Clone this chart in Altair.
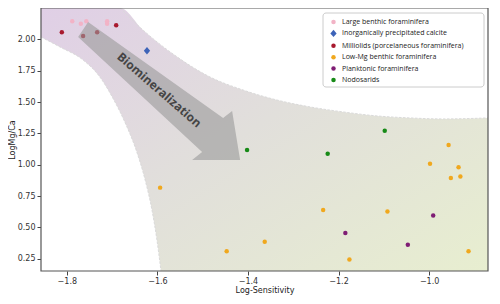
import altair as alt
import pandas as pd

# ---------------- data ----------------
groups = ["Large benthic foraminifera", "Inorganically precipitated calcite",
          "Milliolids (porcelaneous foraminifera)", "Low-Mg benthic foraminifera",
          "Planktonic foraminifera", "Nodosarids"]
colors = ["#f2b3c6", "#3d63b8", "#a8192e", "#f0a81e", "#7f1d74", "#178a17"]
diamond = "M0,-1.65L1.4,0L0,1.65L-1.4,0Z"
shapes = ["circle", diamond, "circle", "circle", "circle", "circle"]

lbf_x = [-1.788, -1.769, -1.757, -1.711, -1.711]
lbf_y = [2.144, 2.125, 2.144, 2.144, 2.125]
calc_x = [-1.623]
calc_y = [1.909]
mil_x = [-1.811, -1.733, -1.691, -1.764]
mil_y = [2.056, 2.056, 2.112, 2.027]
low_x = [-0.957, -0.998, -0.935, -0.952, -0.931, -1.234, -1.092, -1.363, -1.176, -0.913, -1.594, -1.447]
low_y = [1.157, 1.008, 0.980, 0.894, 0.905, 0.639, 0.626, 0.386, 0.243, 0.310, 0.817, 0.310]
plk_x = [-1.185, -0.991, -1.047]
plk_y = [0.456, 0.594, 0.362]
nod_x = [-1.098, -1.224, -1.402]
nod_y = [1.271, 1.088, 1.118]

# shaded band boundaries
upper_x = [-1.857, -1.682, -1.632, -1.556, -1.484, -1.411, -1.336, -1.263, -1.190, -1.115, -1.042, -0.969, -0.870]
upper_y = [2.25, 2.25, 2.075, 1.859, 1.700, 1.596, 1.516, 1.461, 1.421, 1.389, 1.373, 1.365, 1.373]
lower_x = [-1.857, -1.815, -1.764, -1.727, -1.696, -1.669, -1.647, -1.627, -1.612, -1.601, -1.592]
lower_y = [2.019, 1.939, 1.835, 1.700, 1.516, 1.317, 1.118, 0.878, 0.639, 0.400, 0.152]

arrow_x = [-1.594]
arrow_y = [1.588]
label_x = [-1.596]
label_y = [1.596]
label_text = ["Biomineralization"]

x_ticks = [-1.8, -1.6, -1.4, -1.2, -1.0]
y_ticks = [0.25, 0.5, 0.75, 1.0, 1.25, 1.5, 1.75, 2.0]
x_domain = [-1.857, -0.870]
y_domain = [0.152, 2.25]

# ---------------- tables ----------------
rows = []
for g, xs_, ys_ in zip(groups, [lbf_x, calc_x, mil_x, low_x, plk_x, nod_x],
                       [lbf_y, calc_y, mil_y, low_y, plk_y, nod_y]):
    for a, b in zip(xs_, ys_):
        rows.append({"x": a, "y": b, "group": g})
pts = pd.DataFrame(rows)
upper = pd.DataFrame({"x": upper_x, "y": upper_y})
lower = pd.DataFrame({"x": lower_x, "y": lower_y})
upper_edge = upper.iloc[1:]
arrow = pd.DataFrame({"x": arrow_x, "y": arrow_y})
label = pd.DataFrame({"x": label_x, "y": label_y, "t": label_text})
dummy = pd.DataFrame({"a": [0]})

xs = alt.Scale(domain=x_domain, nice=False, zero=False)
ys = alt.Scale(domain=y_domain, nice=False, zero=False)

X = alt.X("x:Q", scale=xs, axis=alt.Axis(
    values=x_ticks, format=".1f", title="Log-Sensitivity", grid=False, domain=False,
    tickSize=4, tickColor="#444", labelPadding=2, labelFont="DejaVu Sans",
    labelFontSize=8, labelColor="#333", titleFont="DejaVu Sans", titleFontSize=8,
    titleFontWeight="normal", titleColor="#222", titleY=15, titleBaseline="top"))
Y = alt.Y("y:Q", scale=ys, axis=alt.Axis(
    values=y_ticks, format=".2f", title="LogMg/Ca", grid=False, domain=False,
    tickSize=4, tickColor="#444", labelPadding=2, labelFont="DejaVu Sans",
    labelFontSize=8, labelColor="#333", titleFont="DejaVu Sans", titleFontSize=8,
    titleFontWeight="normal", titleColor="#222", titleX=-33, titleY=131.5,
    titleAngle=270, titleBaseline="top", titleAlign="center"))

grad = alt.Gradient(
    gradient="linear",
    stops=[alt.GradientStop(color="#e0cfe6", offset=0),
           alt.GradientStop(color="#e1dfdb", offset=0.45),
           alt.GradientStop(color="#e8efcf", offset=1)],
    x1=0, y1=0, x2=1, y2=1)

band = alt.Chart(upper).mark_area(color=grad, interpolate="monotone", clip=True).encode(
    x=X, y=Y, y2=alt.value("height"))
white = alt.Chart(lower).mark_area(color="white", interpolate="monotone", clip=True).encode(
    x=X, y=Y, y2=alt.value("height"))
edge_u = alt.Chart(upper_edge).mark_line(color="#dadada", strokeDash=[2.5, 1.5], strokeWidth=1,
                                         interpolate="monotone", clip=True).encode(x=X, y=Y)
edge_l = alt.Chart(lower).mark_line(color="#dadada", strokeDash=[2.5, 1.5], strokeWidth=1,
                                    interpolate="monotone", clip=True).encode(x=X, y=Y)

legend_box = alt.Chart(dummy).mark_rect(fill="white", stroke="#cccccc", strokeWidth=1,
                                        cornerRadius=3).encode(
    x=alt.value(282), x2=alt.value(443), y=alt.value(5), y2=alt.value(79))

points = alt.Chart(pts).mark_point(filled=True, opacity=1, strokeWidth=0, size=20).encode(
    x=X, y=Y,
    color=alt.Color("group:N", scale=alt.Scale(domain=groups, range=colors), title=None),
    shape=alt.Shape("group:N", scale=alt.Scale(domain=groups, range=shapes), title=None),
)

arrow_path = ("M-0.82,-0.54 L-0.72,-0.69 L0.63,0.27 L0.72,0.20 "
              "L0.80,0.69 L0.32,0.69 L0.42,0.61 Z")
arrow_mark = alt.Chart(arrow).mark_point(shape=arrow_path, size=40000, filled=True,
                                         color="#9a9a9a", opacity=0.6, strokeWidth=0).encode(x=X, y=Y)

text = alt.Chart(label).mark_text(angle=41, font="Open Sans", fontWeight="bold", fontSize=12,
                                  color="#444444", align="center", baseline="middle").encode(
    x=X, y=Y, text="t:N")

frame = alt.Chart(dummy).mark_rect(fillOpacity=0, stroke="#555555", strokeWidth=1.2).encode(
    x=alt.value(0), x2=alt.value("width"), y=alt.value(0), y2=alt.value("height"))

chart = alt.layer(band, white, edge_u, edge_l, legend_box, points, arrow_mark, text, frame).properties(
    width=447, height=263,
    autosize=alt.AutoSizeParams(type="none"),
    padding={"left": 33, "top": 0, "right": 4, "bottom": 25},
).configure_view(strokeWidth=0).configure_legend(
    orient="none", legendX=282, legendY=6.5, padding=4, labelFont="Open Sans",
    labelFontSize=7, labelColor="#222", rowPadding=3.4, symbolOffset=3, labelOffset=5,
    symbolStrokeWidth=0, symbolSize=20,
)

chart.save("out.html", embed_options={"renderer": "svg", "actions": False})
